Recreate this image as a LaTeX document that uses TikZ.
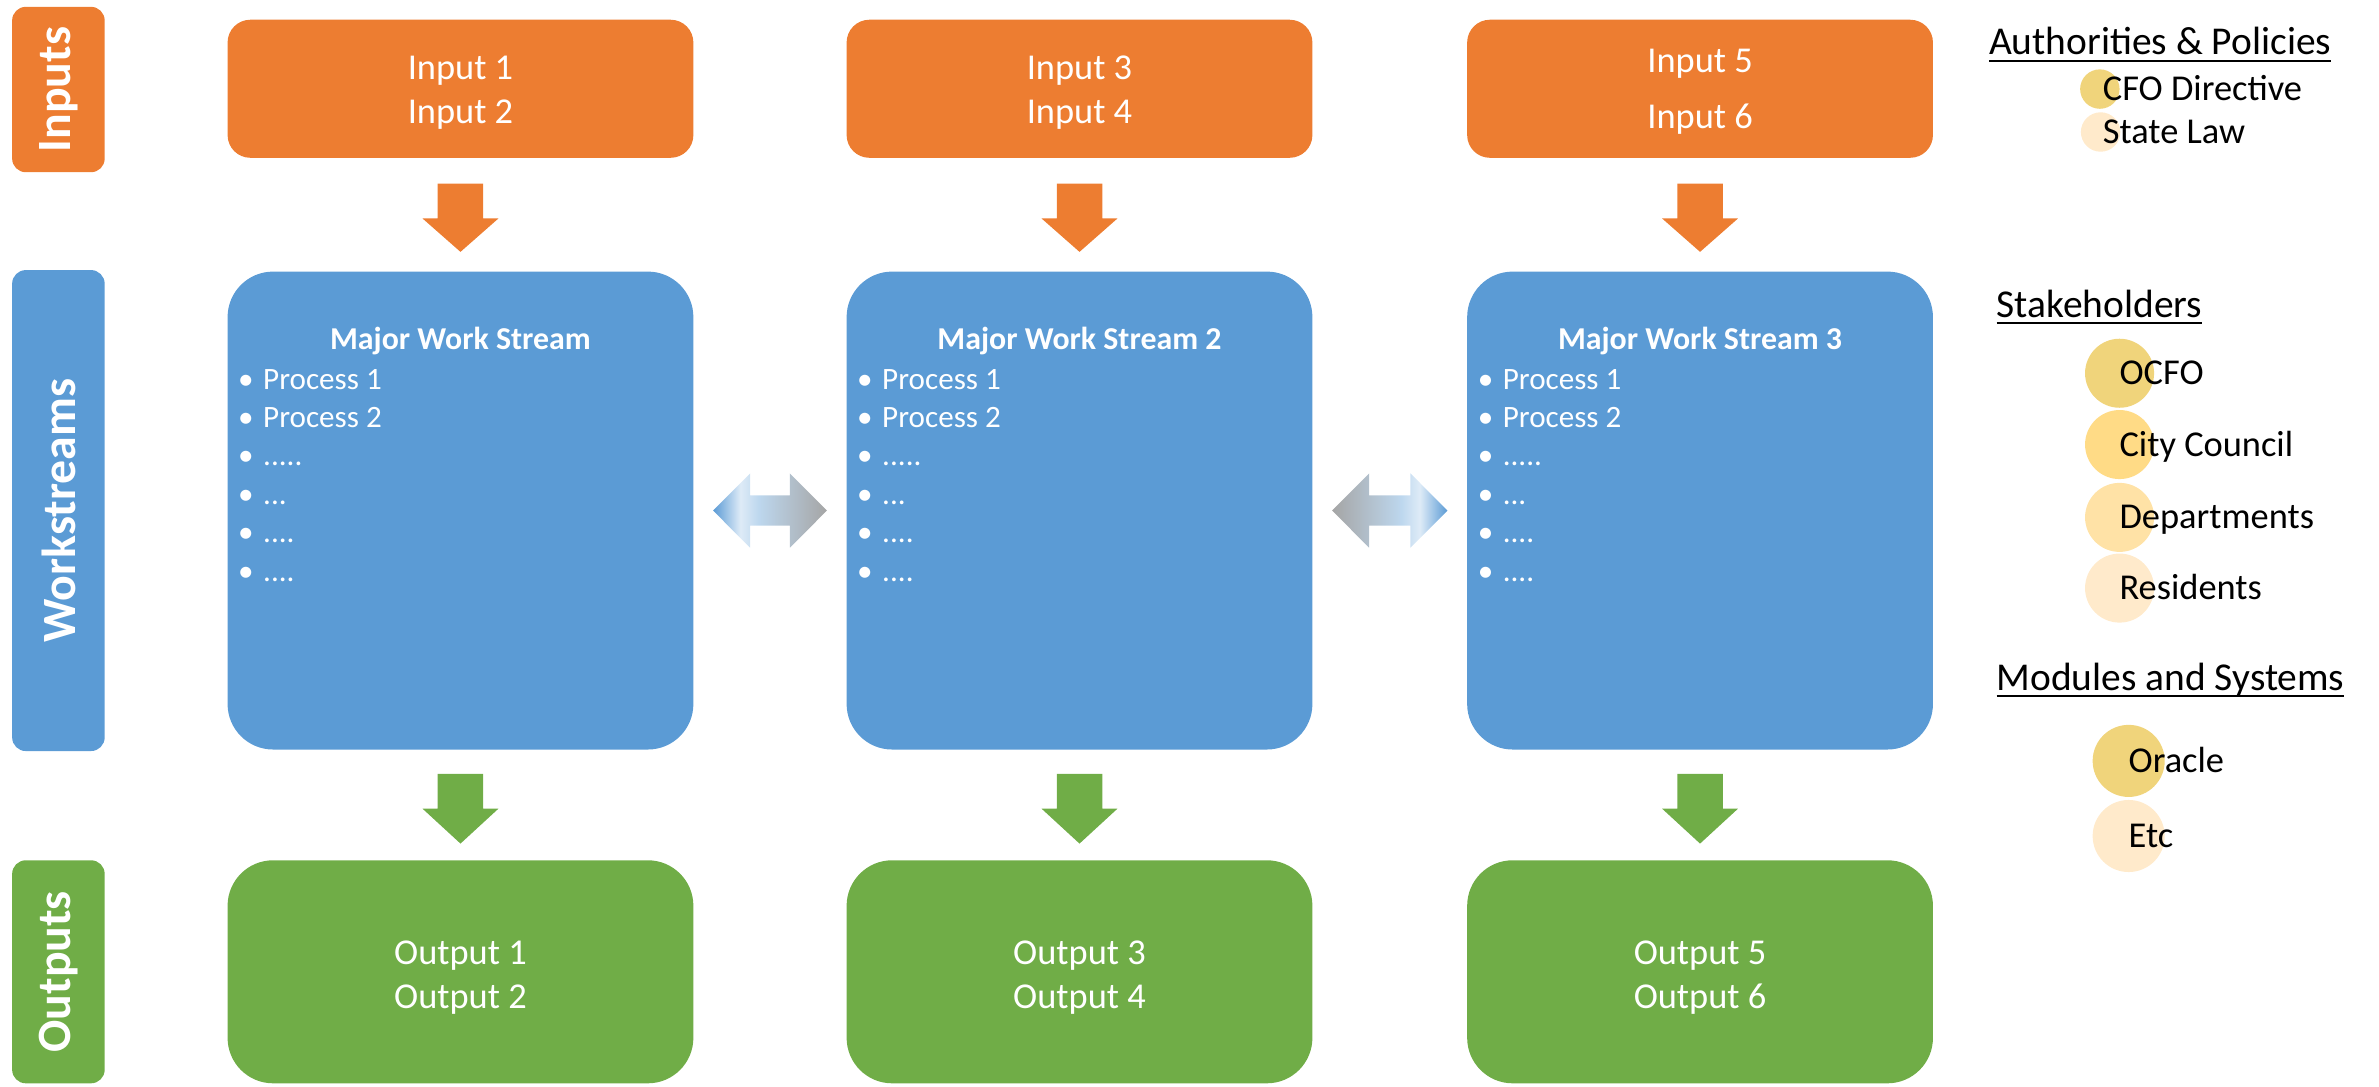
\documentclass[tikz,border=0pt]{standalone}
\usepackage{fontspec}
\setmainfont{Carlito}
\usetikzlibrary{calc}
\definecolor{orng}{HTML}{ED7D31}
\definecolor{blu}{HTML}{5B9BD5}
\definecolor{grn}{HTML}{70AD47}
\definecolor{lgrey}{HTML}{A5A5A5}
\definecolor{paleb}{HTML}{DEEBF7}
\definecolor{midb}{HTML}{BDD7EE}
\definecolor{goldA}{HTML}{F0D47B}
\definecolor{goldB}{HTML}{FFDB86}
\definecolor{goldC}{HTML}{FFE2A6}
\definecolor{goldD}{HTML}{FFEACB}
\pgfdeclarehorizontalshading{dblLR}{100bp}{color(0bp)=(blu); color(25bp)=(blu); color(37bp)=(paleb); color(45bp)=(midb); color(75bp)=(lgrey); color(100bp)=(lgrey)}
\pgfdeclarehorizontalshading{dblRL}{100bp}{color(0bp)=(lgrey); color(25bp)=(lgrey); color(55bp)=(midb); color(63bp)=(paleb); color(75bp)=(blu); color(100bp)=(blu)}
\def\dfive{.....}\def\dthree{...}\def\dfour{....}
\tikzset{
 every node/.style={inner sep=0pt, outer sep=0pt},
 sidelbl/.style={rotate=90, minimum height=61pt, rounded corners=9pt, text=white, font=\fontsize{31.5}{31.5}\selectfont\bfseries},
 inbox/.style={fill=orng, minimum width=307pt, minimum height=91pt, rounded corners=15pt},
 wsbox/.style={fill=blu, minimum width=307pt, minimum height=315pt, rounded corners=30pt},
 outbox/.style={fill=grn, minimum width=307pt, minimum height=147pt, rounded corners=30pt},
 boxtxt/.style={anchor=base, text=white, font=\fontsize{24}{24}\selectfont},
 wstitle/.style={text=white, font=\fontsize{21}{21}\selectfont\bfseries},
 proc/.style={text=white, font=\fontsize{20.5}{20.5}\selectfont},
 lgtitle/.style={font=\fontsize{26}{26}\selectfont},
 lgitem/.style={font=\fontsize{24}{24}\selectfont},
 lgdot/.style={circle, minimum size=#1},
 uline/.style={line width=1.3pt}
}
\begin{document}
\begin{tikzpicture}[x=1pt,y=-1pt]
\useasboundingbox (0,0) rectangle (1568,716);
% side labels
\node[sidelbl, fill=orng, minimum width=109pt] (sIn) at (38.5,59) {Inputs};
\node[sidelbl, fill=blu, minimum width=317pt] (sWs) at (38.5,336.5) {Workstreams};
\node[sidelbl, fill=grn, minimum width=147pt] (sOut) at (38.5,640.5) {Outputs};
% columns
\foreach \c/\x/\a/\b/\ya/\yb/\t in {1/303.5/1/2/39.7/68.7/{Major Work Stream},2/711.5/3/4/39.7/68.7/{Major Work Stream 2},3/1120.5/5/6/34.5/71.6/{Major Work Stream 3}}{
  \node[inbox] (in\c) at (\x,58.5) {};
  \node[boxtxt] (ita\c) at ($(in\c.north)+(0,\ya)$) {Input \a};
  \node[boxtxt] (itb\c) at ($(in\c.north)+(0,\yb)$) {Input \b};
  \node[wsbox] (ws\c) at (\x,336.5) {};
  \node[outbox] (out\c) at (\x,640.5) {};
  \node[boxtxt] (ota\c) at ($(out\c.north)+(0,68.5)$) {Output \a};
  \node[boxtxt] (otb\c) at ($(out\c.north)+(0,98)$) {Output \b};
  \node[wstitle, anchor=base] (wt\c) at ($(ws\c.north)+(0,51.6)$) {\t};
  \foreach [count=\i] \p in {Process 1, Process 2, \dfive, \dthree, \dfour, \dfour}{
    \node[proc, anchor=base west] (p\c-\i) at ($(ws\c.north west)+(7,77.5+25.3*\i-25.3)$) {\makebox[16.5pt][l]{•}\p};
  }
  \coordinate (ia\c) at ($(in\c.south)+(0,17)$);
  \fill[orng] ($(ia\c)+(-15,0)$) -- ($(ia\c)+(15,0)$) -- ($(ia\c)+(15,23)$) -- ($(ia\c)+(25,23)$) -- ($(ws\c.north)+(0,-13)$) -- ($(ia\c)+(-25,23)$) -- ($(ia\c)+(-15,23)$) -- cycle;
  \coordinate (oa\c) at ($(ws\c.south)+(0,16)$);
  \fill[grn] ($(oa\c)+(-15,0)$) -- ($(oa\c)+(15,0)$) -- ($(oa\c)+(15,23)$) -- ($(oa\c)+(25,23)$) -- ($(out\c.north)+(0,-11)$) -- ($(oa\c)+(-25,23)$) -- ($(oa\c)+(-15,23)$) -- cycle;
}
% double arrows
\coordinate (dL1) at ($(ws1.east)+(13,0)$);
\coordinate (dR1) at ($(ws2.west)+(-13,0)$);
\shade[shading=dblLR] (dL1) -- ($(dL1)+(24.4,-24.5)$) -- ($(dL1)+(24.4,-10)$) -- ($(dR1)+(-24.4,-10)$) -- ($(dR1)+(-24.4,-24.5)$) -- (dR1) -- ($(dR1)+(-24.4,24.5)$) -- ($(dR1)+(-24.4,10)$) -- ($(dL1)+(24.4,10)$) -- ($(dL1)+(24.4,24.5)$) -- cycle;
\coordinate (dL2) at ($(ws2.east)+(13,0)$);
\coordinate (dR2) at ($(ws3.west)+(-13,0)$);
\shade[shading=dblRL] (dL2) -- ($(dL2)+(24.4,-24.5)$) -- ($(dL2)+(24.4,-10)$) -- ($(dR2)+(-24.4,-10)$) -- ($(dR2)+(-24.4,-24.5)$) -- (dR2) -- ($(dR2)+(-24.4,24.5)$) -- ($(dR2)+(-24.4,10)$) -- ($(dL2)+(24.4,10)$) -- ($(dL2)+(24.4,24.5)$) -- cycle;
% legend
\node[lgtitle, anchor=base west] (hAuth) at (1311,36) {Authorities \& Policies};
\draw[uline] ($(hAuth.base west)+(0,4)$) -- ($(hAuth.base east)+(0,4)$);
\node[lgdot=26pt, fill=goldA] (cCFO) at (1384,58.7) {};
\node[lgitem, anchor=base west] (tCFO) at ($(cCFO.center)+(2,7.6)$) {CFO Directive};
\node[lgdot=26pt, fill=goldD] (cLaw) at (1384.5,87) {};
\node[lgitem, anchor=base west] (tLaw) at ($(cLaw.center)+(1.5,7.6)$) {State Law};

\node[lgtitle, anchor=base west] (hStk) at (1316,209) {Stakeholders};
\draw[uline] ($(hStk.base west)+(0,4)$) -- ($(hStk.base east)+(0,4)$);
\foreach \n/\y/\col/\txt in {1/246/goldA/OCFO, 2/293/goldB/City Council, 3/341/goldC/Departments, 4/387.6/goldD/Residents}{
  \node[lgdot=45.5pt, fill=\col] (cS\n) at (1397,\y) {};
  \node[lgitem, anchor=base west] (tS\n) at ($(cS\n.center)+(0,7.6)$) {\txt};
}
\node[lgtitle, anchor=base west] (hMod) at (1316,455) {Modules and Systems};
\draw[uline] ($(hMod.base west)+(0,4)$) -- ($(hMod.base east)+(0,4)$);
\foreach \n/\y/\col/\txt in {1/501.5/goldA/Oracle, 2/551/goldD/Etc}{
  \node[lgdot=47.5pt, fill=\col] (cM\n) at (1403,\y) {};
  \node[lgitem, anchor=base west] (tM\n) at ($(cM\n.center)+(0,7.6)$) {\txt};
}
\end{tikzpicture}
\end{document}
